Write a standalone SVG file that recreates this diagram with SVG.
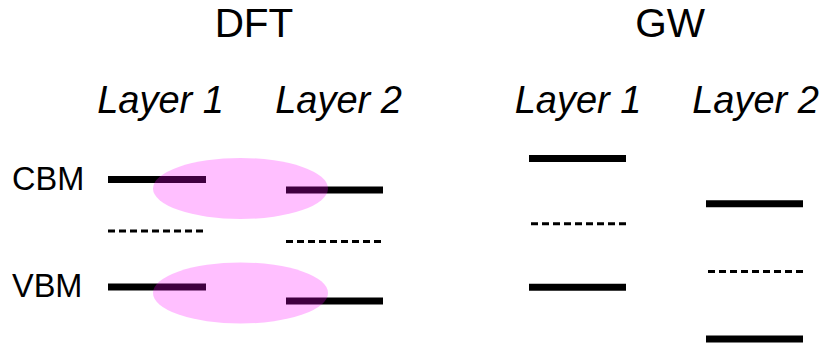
<svg xmlns="http://www.w3.org/2000/svg" width="824" height="345" viewBox="0 0 824 345">
<style>
.t{font-family:"Liberation Sans",Arial,sans-serif;fill:#000}
.h{font-size:40.5px}
.l{font-size:38px;font-style:italic}
.s{font-size:32.5px}
.lv{stroke:#000;stroke-width:7;fill:none}
.d{stroke:#000;stroke-width:3;stroke-dasharray:7 4;fill:none}
.ov{fill:#ff00ff;fill-opacity:0.25}
</style>
<rect width="824" height="345" fill="#fff"/>
<g id="headers">
<text class="t h" x="254" y="37" text-anchor="middle">DFT</text>
<text class="t h" x="670" y="37" text-anchor="middle">GW</text>
<text class="t l" x="160.5" y="113" text-anchor="middle">Layer 1</text>
<text class="t l" x="338.5" y="113" text-anchor="middle">Layer 2</text>
<text class="t l" x="578" y="113" text-anchor="middle">Layer 1</text>
<text class="t l" x="755.5" y="113" text-anchor="middle">Layer 2</text>
<text class="t s" x="12" y="190">CBM</text>
<text class="t s" x="12" y="297">VBM</text>
</g>
<g id="dft-levels">
<line class="lv" x1="108" y1="179.5" x2="206" y2="179.5"/>
<line class="d" x1="108" y1="231" x2="206" y2="231"/>
<line class="lv" x1="108" y1="287" x2="206" y2="287"/>
<line class="lv" x1="286" y1="190" x2="383" y2="190"/>
<line class="d" x1="286" y1="241.5" x2="383" y2="241.5"/>
<line class="lv" x1="286" y1="301" x2="383" y2="301"/>
</g>
<g id="gw-levels">
<line class="lv" x1="529" y1="158.5" x2="626" y2="158.5"/>
<line class="d" x1="531" y1="223.7" x2="628" y2="223.7"/>
<line class="lv" x1="529" y1="287.3" x2="626" y2="287.3"/>
<line class="lv" x1="706" y1="203.7" x2="803" y2="203.7"/>
<line class="d" x1="708" y1="271.5" x2="805" y2="271.5"/>
<line class="lv" x1="706" y1="339" x2="803" y2="339"/>
</g>
<g id="overlaps">
<ellipse class="ov" cx="240.5" cy="188.5" rx="87.5" ry="30.5"/>
<ellipse class="ov" cx="240.5" cy="293" rx="87.5" ry="30.5"/>
</g>
</svg>
